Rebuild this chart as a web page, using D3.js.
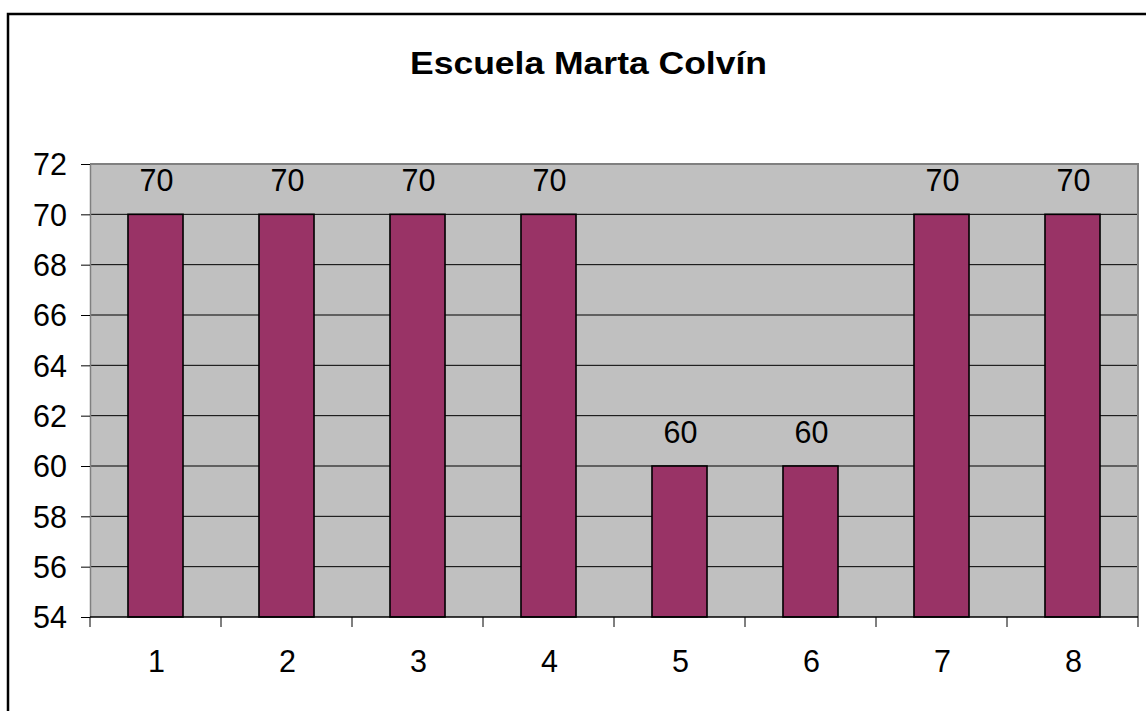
<!DOCTYPE html>
<html>
<head>
<meta charset="utf-8">
<script src="https://cdn.jsdelivr.net/npm/d3@7"></script>
<style>
  html, body { margin: 0; padding: 0; background: #fff; }
  svg { display: block; }
  text { font-family: Arial, "Liberation Sans", sans-serif; }
</style>
</head>
<body>
<svg id="chart" width="1146" height="711"></svg>
<script>
const title = "Escuela Marta Colvín";
const categories = ["1", "2", "3", "4", "5", "6", "7", "8"];
const values = [70, 70, 70, 70, 60, 60, 70, 70];
const yTicks = [54, 56, 58, 60, 62, 64, 66, 68, 70, 72];

const svg = d3.select("#chart");
const W = 1146, H = 711;
const plot = { left: 90, top: 164, right: 1138, bottom: 617 };
const labelSize = 30.5;

// outer chart border (top and left visible)
svg.append("rect")
  .attr("x", 8).attr("y", 14)
  .attr("width", W + 10).attr("height", H + 10)
  .attr("fill", "#fff").attr("stroke", "#000").attr("stroke-width", 2.5);

svg.append("text")
  .attr("x", 410).attr("y", 74)
  .attr("font-size", 32).attr("font-weight", "bold")
  .attr("textLength", 357)
  .attr("lengthAdjust", "spacingAndGlyphs")
  .attr("fill", "#000")
  .text(title);

const x = d3.scaleBand()
  .domain(categories)
  .range([plot.left, plot.right])
  .paddingInner(0.58)
  .paddingOuter(0.29);

const y = d3.scaleLinear()
  .domain([54, 72])
  .range([plot.bottom, plot.top]);

// plot background
svg.append("rect")
  .attr("x", plot.left).attr("y", plot.top)
  .attr("width", plot.right - plot.left).attr("height", plot.bottom - plot.top)
  .attr("fill", "#C0C0C0");

// gridlines
svg.append("g").selectAll("line")
  .data(yTicks.filter(t => t > 54 && t < 72))
  .join("line")
  .attr("x1", plot.left).attr("x2", plot.right)
  .attr("y1", d => y(d)).attr("y2", d => y(d))
  .attr("stroke", "#000").attr("stroke-width", 1);

// plot border (top/right gray)
svg.append("path")
  .attr("d", `M${plot.left},${plot.top}H${plot.right}V${plot.bottom}`)
  .attr("fill", "none").attr("stroke", "#808080").attr("stroke-width", 2);

// bars
svg.append("g").selectAll("rect")
  .data(values)
  .join("rect")
  .attr("x", (d, i) => x(categories[i]))
  .attr("y", d => y(d))
  .attr("width", x.bandwidth())
  .attr("height", d => y(54) - y(d))
  .attr("fill", "#993366")
  .attr("stroke", "#000").attr("stroke-width", 1.6);

// data labels
svg.append("g").selectAll("text")
  .data(values)
  .join("text")
  .attr("x", (d, i) => x(categories[i]) + x.bandwidth() / 2 + 1)
  .attr("y", d => y(d) - 23)
  .attr("text-anchor", "middle")
  .attr("font-size", labelSize)
  .attr("fill", "#000")
  .text(d => d);

// y axis
const yAxis = d3.axisLeft(y).tickValues(yTicks).tickSize(9).tickPadding(14).tickSizeOuter(0);
const gy = svg.append("g").attr("transform", `translate(${plot.left},0)`).call(yAxis);
gy.select(".domain").attr("stroke", "#808080").attr("stroke-width", 1.5);
gy.selectAll(".tick line").attr("stroke", "#000");
gy.selectAll(".tick text")
  .attr("font-size", labelSize).attr("fill", "#000")
  .attr("font-family", "Arial, 'Liberation Sans', sans-serif")
  .attr("dy", "0.36em");

// x axis
const gx = svg.append("g").attr("transform", `translate(0,${plot.bottom})`);
gx.append("line")
  .attr("x1", plot.left).attr("x2", plot.right)
  .attr("y1", 0).attr("y2", 0)
  .attr("stroke", "#000").attr("stroke-width", 1.5);
const boundaries = categories.map((c, i) => plot.left + i * x.step());
boundaries.push(plot.right);
gx.selectAll("line.tk")
  .data(boundaries)
  .join("line").attr("class", "tk")
  .attr("x1", d => d).attr("x2", d => d)
  .attr("y1", 0).attr("y2", 10)
  .attr("stroke", "#000").attr("stroke-width", 1);
gx.selectAll("text")
  .data(categories)
  .join("text")
  .attr("x", d => x(d) + x.bandwidth() / 2 + 1)
  .attr("y", 55)
  .attr("text-anchor", "middle")
  .attr("font-size", labelSize)
  .attr("fill", "#000")
  .text(d => d);
</script>
</body>
</html>
